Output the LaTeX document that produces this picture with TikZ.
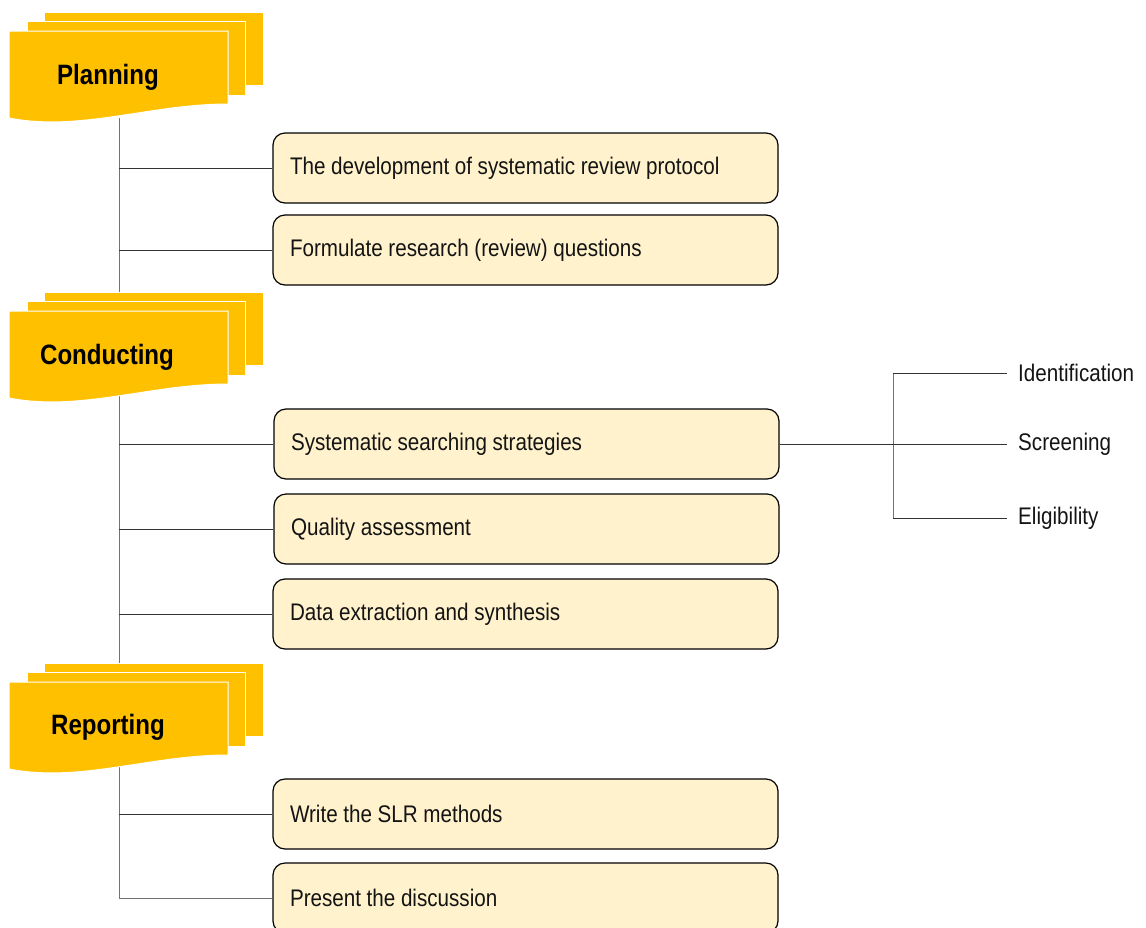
\documentclass[tikz,border=0pt]{standalone}
\usepackage{fontspec}
\setmainfont{Liberation Sans}[FakeStretch=0.86]
\definecolor{docyel}{HTML}{FFC000}
\definecolor{boxfill}{HTML}{FFF2CC}
\definecolor{txt}{HTML}{141414}
\newcommand\myboxspace{\spaceskip=5.6pt plus 1pt minus 1pt\relax}
\newcommand\docstack[1]{%
  \begin{scope}[yshift=-#1pt]
    \fill[docyel,draw=white,line width=1pt] (44,12) rectangle (263,85);
    \fill[docyel,draw=white,line width=1pt] (27,21) rectangle (245,95);
    \fill[docyel,draw=white,line width=1pt] (9,31) -- (228,31) -- (228,104)
      .. controls (150,104) and (80,132) .. (9,118) -- cycle;
  \end{scope}}
\begin{document}
\begin{tikzpicture}[x=1pt,y=-1pt,
  stepbox/.style={draw=black,line width=1.2pt,fill=boxfill,rounded corners=12pt,
    minimum height=70pt,inner xsep=17pt,text width=471pt,align=left,
    font=\fontsize{24}{28}\selectfont,text=txt,execute at begin node=\myboxspace},
  title/.style={font=\bfseries\fontsize{28}{32}\selectfont,text=black},
  leaf/.style={anchor=west,font=\fontsize{24}{28}\selectfont,text=txt,inner sep=0pt},
  trunk/.style={draw=black!55,line width=1pt},
  branch/.style={draw=black!80,line width=1pt}]
\useasboundingbox (0,0) rectangle (1146,927);
\clip (0,0) rectangle (1146,927);
% trunk
\coordinate (ttop) at (119,118);
\coordinate (tbot) at (119,899);
\draw[trunk] (ttop) -- (tbot);
% document stacks
\docstack{0}
\docstack{280}
\docstack{651}
\node[title] (p) at (108,77) {Planning};
\node[title] (c) at (107,357) {Conducting};
\node[title] (r) at (108,727) {Reporting};
% boxes
\node[stepbox] (b1) at (525.5,168) {The development of systematic review protocol};
\node[stepbox] (b2) at (525.5,250) {Formulate research (review) questions};
\node[stepbox] (b3) at (526.5,444) {Systematic searching strategies};
\node[stepbox] (b4) at (526.5,529) {Quality assessment};
\node[stepbox] (b5) at (525.5,614) {Data extraction and synthesis};
\node[stepbox] (b6) at (525.5,814) {Write the SLR methods};
\node[stepbox] (b7) at (525.5,898) {Present the discussion};
\foreach \b in {b1,b2,b3,b4,b5,b6}{
  \draw[branch] (\b.west) -- (\b.west -| ttop);
}
\draw[trunk] (b7.west) -- (b7.west -| ttop);
% right branch
\node[leaf] (l1) at (1018,373) {Identification};
\node[leaf] (l2) at (1018,444) {Screening};
\node[leaf] (l3) at (1018,518) {Eligibility};
\coordinate (fork) at (893,444);
\draw[branch] (b3.east) -- (fork);
\draw[trunk] (fork |- l1.west) -- (fork |- l3.west);
\draw[branch] (fork |- l1.west) -- ([xshift=-11pt]l1.west);
\draw[branch] (fork) -- ([xshift=-11pt]l2.west);
\draw[branch] (fork |- l3.west) -- ([xshift=-11pt]l3.west);
\end{tikzpicture}
\end{document}
